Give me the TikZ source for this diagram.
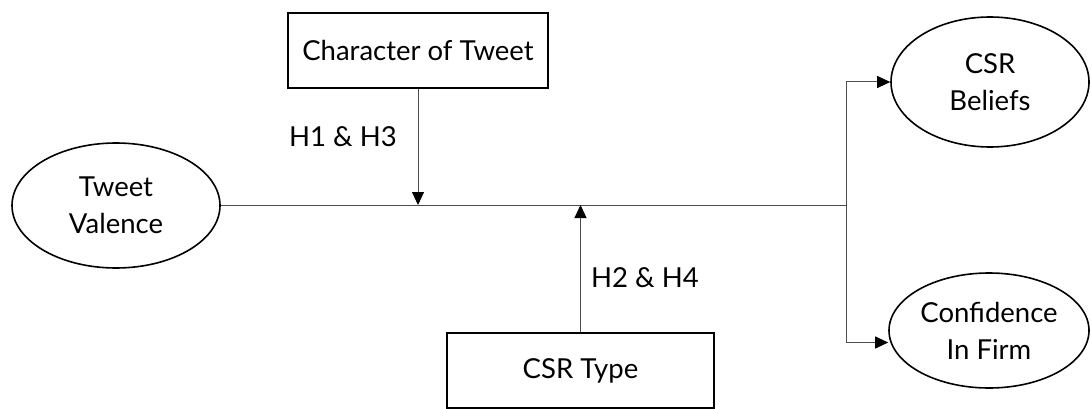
\documentclass[tikz,border=0pt]{standalone}
\usepackage{fontspec}
\setmainfont{Lato}
\usetikzlibrary{arrows.meta,shapes.geometric}
\begin{document}
\begin{tikzpicture}[x=1pt,y=-1pt,
  every node/.style={font=\fontsize{27.5}{37}\selectfont},
  ell/.style={draw, ellipse, line width=1.6pt, align=center, inner sep=0pt},
  boxnode/.style={draw, rectangle, line width=1.6pt, align=center, inner sep=0pt},
  conn/.style={draw=black!70, line width=1pt},
  arr/.style={conn, -{Triangle[length=13pt,width=12pt,fill=black,color=black]}}]
\useasboundingbox (0,0) rectangle (1091,409);
\node[ell, minimum width=208pt, minimum height=125pt] (tv) at (116,205.5) {Tweet\\Valence};
\node[ell, minimum width=198pt, minimum height=130pt] (bel) at (990,82) {CSR\\Beliefs};
\node[ell, minimum width=200pt, minimum height=115pt] (conf) at (989,330.5) {Confidence\\In Firm};
\node[boxnode, minimum width=260pt, minimum height=75pt] (char) at (418,50.5) {Character of Tweet};
\node[boxnode, minimum width=267pt, minimum height=75pt] (type) at (580.5,370.5) {CSR Type};
\coordinate (j) at (846,205);
\draw[conn] (tv.east |- j) -- (j);
\draw[arr] (j) |- (bel.west);
\draw[arr] (j) |- ([yshift=-12pt]conf.west);
\draw[arr] (char.south) -- (char.south |- j);
\draw[arr] (type.north) -- (type.north |- j);
\node (h13) at (343,137) {H1 \& H3};
\node (h24) at (645,278) {H2 \& H4};
\end{tikzpicture}
\end{document}
